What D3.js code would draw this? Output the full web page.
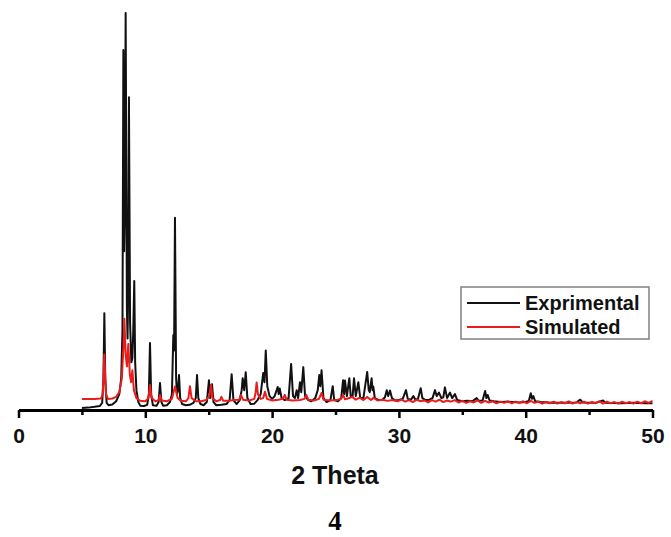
<!DOCTYPE html>
<html>
<head>
<meta charset="utf-8">
<script src="https://cdn.jsdelivr.net/npm/d3@7"></script>
<style>
  html, body { margin: 0; padding: 0; background: #fff; }
  svg { display: block; }
</style>
</head>
<body>
<svg id="chart" width="671" height="537"></svg>
<script>
// Powder X-ray diffraction pattern: measured vs simulated, as [2θ, relative intensity]
const experimental = [
  [5.0,0.5],[5.5,0.6],[6.0,0.8],[6.4,1.0],[6.6,1.8],[6.7,8],[6.77,24.4],[6.84,8],[6.95,1.8],
  [7.1,1.2],[7.4,1.4],[7.7,2.2],[7.95,4],[8.1,8],[8.2,20],[8.27,90.7],[8.33,40],[8.38,50],
  [8.45,100],[8.55,25],[8.6,18],[8.65,30],[8.71,78.8],[8.8,22],[8.9,12],[8.98,13],[9.05,20],
  [9.13,32.5],[9.2,12],[9.3,5],[9.45,2],[9.6,1.1],[9.9,1.0],[10.15,1.3],[10.28,4],[10.37,16.9],
  [10.46,4],[10.6,1.2],[10.9,1.1],[11.05,2],[11.16,6.8],[11.27,2],[11.4,1.1],[11.7,1.2],
  [11.95,2],[12.1,4],[12.21,18.9],[12.27,15],[12.34,48.4],[12.43,8],[12.5,4],[12.58,5],
  [12.66,8.8],[12.75,3],[12.9,1.5],[13.2,1.2],[13.5,1.3],[13.8,1.8],[13.98,3],[14.08,8.8],
  [14.18,3],[14.35,1.5],[14.6,1.2],[14.85,2],[15.02,7.5],[15.12,3],[15.26,6.5],[15.38,2],
  [15.6,1.2],[16.0,1.3],[16.4,1.5],[16.65,2.5],[16.81,9],[16.95,2.5],[17.2,1.5],[17.45,2.5],
  [17.6,5],[17.68,8],[17.8,5],[17.92,9.5],[18.05,3],[18.3,1.5],[18.6,1.6],[18.85,2.5],
  [19.1,4],[19.3,9.3],[19.4,7],[19.5,15],[19.62,6],[19.8,3.5],[20.0,2.8],[20.2,3.5],
  [20.44,5.8],[20.52,4],[20.6,5.4],[20.75,3],[21.0,2.5],[21.3,3],[21.5,11.6],[21.65,3.5],
  [21.8,3],[21.94,5],[22.05,3],[22.2,7],[22.3,4.5],[22.46,10.8],[22.6,3.5],[22.85,2.5],
  [23.1,2.2],[23.4,3],[23.6,5],[23.72,8.8],[23.8,6],[23.9,10],[24.05,3],[24.3,2],[24.6,2.5],
  [24.78,6],[24.9,2.5],[25.2,2.2],[25.45,3],[25.6,7.5],[25.68,4],[25.75,7.4],[25.9,3.5],
  [26.09,8],[26.2,3.5],[26.35,3.5],[26.46,8],[26.6,3.5],[26.8,7],[26.95,3],[27.2,3],
  [27.5,9.6],[27.62,5],[27.7,4.5],[27.85,8],[27.92,5],[27.98,5.9],[28.1,3],[28.4,2.5],
  [28.7,2.6],[28.9,3.2],[29.04,5],[29.15,3.5],[29.3,4.9],[29.45,3],[29.7,2.4],[30.0,2.5],
  [30.3,2.8],[30.56,5],[30.7,2.8],[30.95,2.6],[31.14,3.5],[31.3,2.6],[31.5,2.8],[31.72,5.5],
  [31.85,3],[32.1,2.5],[32.4,2.6],[32.65,3],[32.85,5],[32.98,3.5],[33.16,4.4],[33.35,3],
  [33.5,3.2],[33.63,5.7],[33.8,3],[34.03,4.4],[34.2,3],[34.42,4],[34.6,2.5],[35.0,2.2],
  [35.4,2.3],[35.8,2.2],[36.13,3],[36.3,2.3],[36.6,2.4],[36.8,4.8],[36.9,3],[37.0,3.8],
  [37.15,2.4],[37.5,2.2],[38.0,2.0],[38.5,2.1],[39.0,2.0],[39.5,1.9],[40.0,2.0],[40.25,2.3],
  [40.4,4.2],[40.5,2.8],[40.6,3.5],[40.75,2.2],[41.2,2.0],[42.0,1.8],[43.0,1.8],[44.0,1.9],
  [44.3,2.6],[44.5,1.9],[45.5,1.8],[46.1,2.4],[46.3,1.8],[47.5,1.7],[48.5,1.8],[49.5,1.7],
  [50.0,1.7]
];

const simulated = [
  [5.0,2.8],[5.5,2.8],[6.0,2.8],[6.5,2.9],[6.65,4],[6.72,10],[6.77,14],[6.82,10],[6.9,4],
  [7.05,2.8],[7.4,2.9],[7.7,3.3],[7.95,4.5],[8.15,8],[8.28,16],[8.35,23],[8.45,14],[8.55,11],
  [8.66,16.6],[8.78,9],[8.88,7],[8.98,10],[9.1,5],[9.3,3],[9.6,2.3],[10.0,2.2],[10.25,3],
  [10.37,6.3],[10.5,3],[10.8,2.2],[11.05,2.5],[11.16,3.8],[11.3,2.4],[11.7,2.2],[12.1,2.8],
  [12.34,5.9],[12.55,3],[12.8,2.3],[13.2,2.2],[13.4,3],[13.52,6],[13.65,3],[14.0,2.2],
  [14.4,2.2],[14.8,2.5],[15.05,3.5],[15.18,6.3],[15.3,3],[15.6,2.2],[15.9,2.5],[16.0,3.3],
  [16.15,2.3],[16.6,2.3],[17.0,2.5],[17.4,2.6],[17.55,3.8],[17.7,2.6],[18.2,2.4],[18.6,2.8],
  [18.7,4.5],[18.78,6.9],[18.88,4],[19.1,2.8],[19.3,3],[19.44,4.6],[19.6,2.8],[20.0,2.4],
  [20.5,2.6],[20.85,2.8],[21.0,3.8],[21.15,2.6],[21.6,2.4],[22.2,2.5],[22.55,2.8],[22.7,3.8],
  [22.85,2.6],[23.3,2.4],[23.7,2.8],[23.9,4.3],[24.05,2.6],[24.6,2.4],[25.1,2.5],[25.45,2.8],
  [25.6,3.8],[25.75,2.7],[26.1,3],[26.3,3.3],[26.6,2.6],[26.9,3.1],[27.2,2.5],[27.5,3.3],
  [27.8,2.5],[28.0,3.1],[28.3,2.4],[28.7,2.6],[29.1,2.3],[29.5,2.5],[29.9,2.2],[30.2,2.6],
  [30.5,2.1],[30.8,2.5],[31.1,2.0],[31.4,2.6],[31.7,2.2],[32.0,2.4],[32.3,1.9],[32.6,2.5],
  [32.9,2.1],[33.2,2.6],[33.5,2.0],[33.8,2.4],[34.1,2.1],[34.4,2.5],[34.7,1.9],[35.0,2.3],
  [35.3,1.8],[35.6,2.2],[35.9,1.9],[36.2,2.4],[36.5,1.8],[36.8,2.3],[37.1,1.9],[37.4,2.2],
  [37.7,1.7],[38.0,2.1],[38.3,1.8],[38.6,2.2],[38.9,1.7],[39.2,2.1],[39.5,1.8],[39.8,2.2],
  [40.1,1.7],[40.4,2.3],[40.7,1.8],[41.0,2.1],[41.3,1.6],[41.6,2.0],[41.9,1.7],[42.2,2.1],
  [42.5,1.6],[42.8,2.0],[43.1,1.7],[43.4,2.2],[43.7,1.6],[44.0,2.0],[44.3,1.7],[44.6,2.1],
  [44.9,1.6],[45.2,2.0],[45.5,1.7],[45.8,2.2],[46.1,1.6],[46.4,2.1],[46.7,1.7],[47.0,2.0],
  [47.3,1.6],[47.6,2.1],[47.9,1.7],[48.2,2.0],[48.5,1.6],[48.8,2.1],[49.1,1.7],[49.4,2.2],
  [49.7,1.8],[50.0,2.3]
];

const majorTicks = [0, 10, 20, 30, 40, 50];
const minorTicks = [5, 15, 25, 35, 45];
const seriesNames = ["Exprimental", "Simulated"];
const seriesColors = ["#111111", "#ec1c1c"];
const xTitle = "2 Theta";
const panelLabel = "4";

const svg = d3.select("#chart");
const axisY = 410;

const x = d3.scaleLinear().domain([0, 50]).range([18.5, 652.5]);
const y = d3.scaleLinear().domain([0, 100]).range([axisY, 13]);

const line = d3.line().x(d => x(d[0])).y(d => y(d[1]));

// traces: measured first, simulated on top
[experimental, simulated].forEach((data, i) => {
  svg.append("path")
    .datum(data)
    .attr("d", line)
    .attr("fill", "none")
    .attr("stroke", seriesColors[i])
    .attr("stroke-width", 2)
    .attr("stroke-linejoin", "round");
});

// x axis
const gx = svg.append("g").attr("transform", `translate(0,${axisY})`);
gx.call(d3.axisBottom(x).tickValues(majorTicks).tickSize(8).tickSizeOuter(0).tickFormat(d3.format("d")));
gx.select(".domain").attr("stroke", "#000").attr("stroke-width", 3);
gx.selectAll(".tick line").attr("stroke", "#000").attr("stroke-width", 2.5);
gx.selectAll(".tick text")
  .attr("y", 33).attr("dy", null)
  .attr("fill", "#111")
  .style("font-family", "'Liberation Sans', Arial, sans-serif")
  .style("font-weight", "bold")
  .style("font-size", "21px");

const gm = svg.append("g").attr("transform", `translate(0,${axisY})`);
gm.call(d3.axisBottom(x).tickValues(minorTicks).tickSize(5).tickFormat(""));
gm.select(".domain").remove();
gm.selectAll(".tick line").attr("stroke", "#000").attr("stroke-width", 2.5);

// axis title and panel label
svg.append("text")
  .attr("x", 335).attr("y", 484)
  .attr("text-anchor", "middle")
  .attr("fill", "#111")
  .style("font-family", "'Liberation Sans', Arial, sans-serif")
  .style("font-weight", "bold")
  .style("font-size", "25px")
  .text(xTitle);

svg.append("text")
  .attr("x", 335).attr("y", 530)
  .attr("text-anchor", "middle")
  .attr("fill", "#000")
  .attr("font-family", "Liberation Serif, DejaVu Serif, serif")
  .attr("font-weight", "bold")
  .attr("font-size", "27px")
  .text(panelLabel);

// legend
const lg = svg.append("g");
lg.append("rect")
  .attr("x", 461).attr("y", 287).attr("width", 188).attr("height", 52)
  .attr("fill", "#fff").attr("stroke", "#808080").attr("stroke-width", 1.5);
seriesNames.forEach((name, i) => {
  const cy = 303 + i * 24;
  lg.append("line")
    .attr("x1", 467).attr("x2", 520).attr("y1", cy).attr("y2", cy)
    .attr("stroke", seriesColors[i]).attr("stroke-width", 2);
  lg.append("text")
    .attr("x", 525).attr("y", cy + 7)
    .attr("fill", "#111")
    .style("font-family", "'Liberation Sans', Arial, sans-serif")
    .style("font-weight", "bold")
    .style("font-size", "20px")
    .text(name);
});
</script>
</body>
</html>
